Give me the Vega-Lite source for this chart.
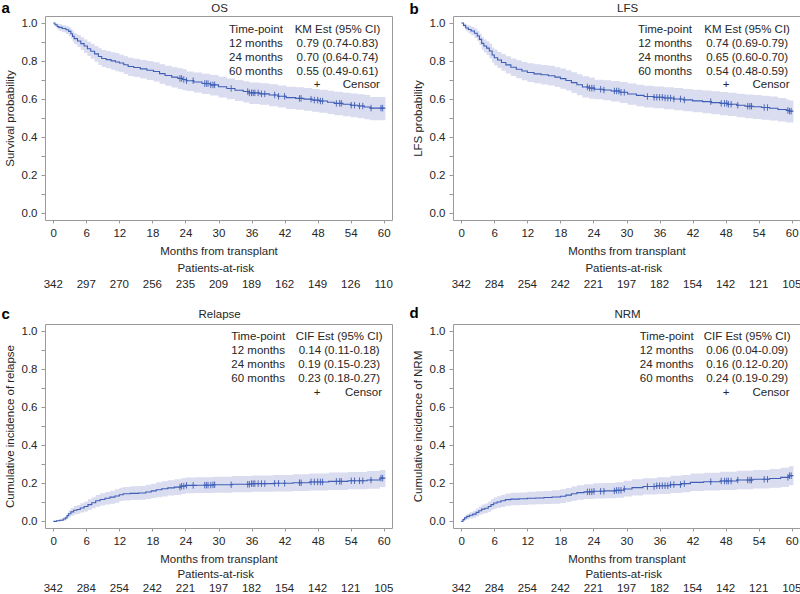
{
  "$schema": "https://vega.github.io/schema/vega-lite/v6.json",
  "padding": {"left": 0, "top": 0, "right": 0, "bottom": 0},
  "background": "white",
  "config": {
    "font": "Liberation Sans",
    "view": {"stroke": "#9a9a9a", "strokeWidth": 1},
    "axis": {"domain": false, "grid": false, "tickColor": "#9a9a9a", "labelFontSize": 11.5, "labelColor": "#262626", "labelOverlap": false, "labelFlush": false, "titleFontSize": 11.5, "titleFontWeight": "normal", "titleColor": "#262626"},
    "axisX": {"tickSize": 3, "labelPadding": 4, "titlePadding": 7},
    "axisY": {"tickSize": 4, "labelPadding": 4, "titlePadding": 6},
    "text": {"fontSize": 11.5, "color": "#262626"}
  },
  "datasets": {
    "os": [
      {"month": 0, "est": 1.0, "lo": 1.0, "hi": 1.0},
      {"month": 0.3, "est": 0.991, "lo": 0.981, "hi": 1.0},
      {"month": 0.7, "est": 0.982, "lo": 0.968, "hi": 0.996},
      {"month": 1.0, "est": 0.977, "lo": 0.96, "hi": 0.993},
      {"month": 1.6, "est": 0.971, "lo": 0.951, "hi": 0.989},
      {"month": 2.3, "est": 0.965, "lo": 0.943, "hi": 0.985},
      {"month": 2.8, "est": 0.956, "lo": 0.932, "hi": 0.978},
      {"month": 3.2, "est": 0.944, "lo": 0.918, "hi": 0.968},
      {"month": 3.5, "est": 0.93, "lo": 0.902, "hi": 0.957},
      {"month": 3.8, "est": 0.918, "lo": 0.888, "hi": 0.947},
      {"month": 4.4, "est": 0.906, "lo": 0.874, "hi": 0.937},
      {"month": 5.0, "est": 0.892, "lo": 0.858, "hi": 0.925},
      {"month": 5.6, "est": 0.879, "lo": 0.843, "hi": 0.914},
      {"month": 6.2, "est": 0.865, "lo": 0.827, "hi": 0.902},
      {"month": 6.8, "est": 0.852, "lo": 0.812, "hi": 0.891},
      {"month": 7.5, "est": 0.838, "lo": 0.796, "hi": 0.879},
      {"month": 8.2, "est": 0.824, "lo": 0.78, "hi": 0.867},
      {"month": 8.8, "est": 0.814, "lo": 0.769, "hi": 0.858},
      {"month": 9.6, "est": 0.808, "lo": 0.762, "hi": 0.853},
      {"month": 10.5, "est": 0.801, "lo": 0.754, "hi": 0.847},
      {"month": 11.3, "est": 0.795, "lo": 0.747, "hi": 0.842},
      {"month": 12.0, "est": 0.79, "lo": 0.741, "hi": 0.833},
      {"month": 12.8, "est": 0.781, "lo": 0.732, "hi": 0.826},
      {"month": 13.6, "est": 0.772, "lo": 0.722, "hi": 0.818},
      {"month": 14.6, "est": 0.766, "lo": 0.716, "hi": 0.813},
      {"month": 15.8, "est": 0.759, "lo": 0.708, "hi": 0.806},
      {"month": 17.0, "est": 0.752, "lo": 0.701, "hi": 0.8},
      {"month": 18.2, "est": 0.745, "lo": 0.693, "hi": 0.794},
      {"month": 19.3, "est": 0.734, "lo": 0.681, "hi": 0.784},
      {"month": 20.3, "est": 0.724, "lo": 0.67, "hi": 0.775},
      {"month": 21.5, "est": 0.716, "lo": 0.661, "hi": 0.768},
      {"month": 22.6, "est": 0.709, "lo": 0.653, "hi": 0.762},
      {"month": 23.5, "est": 0.703, "lo": 0.647, "hi": 0.757},
      {"month": 24.2, "est": 0.697, "lo": 0.643, "hi": 0.745},
      {"month": 25.5, "est": 0.69, "lo": 0.635, "hi": 0.74},
      {"month": 27.0, "est": 0.682, "lo": 0.627, "hi": 0.733},
      {"month": 28.5, "est": 0.675, "lo": 0.619, "hi": 0.727},
      {"month": 30.0, "est": 0.665, "lo": 0.609, "hi": 0.718},
      {"month": 31.5, "est": 0.656, "lo": 0.599, "hi": 0.709},
      {"month": 33.0, "est": 0.647, "lo": 0.59, "hi": 0.701},
      {"month": 34.5, "est": 0.64, "lo": 0.582, "hi": 0.694},
      {"month": 35.6, "est": 0.633, "lo": 0.575, "hi": 0.688},
      {"month": 37.5, "est": 0.628, "lo": 0.57, "hi": 0.683},
      {"month": 39.2, "est": 0.622, "lo": 0.563, "hi": 0.678},
      {"month": 40.8, "est": 0.615, "lo": 0.556, "hi": 0.672},
      {"month": 42.3, "est": 0.608, "lo": 0.548, "hi": 0.665},
      {"month": 44.0, "est": 0.604, "lo": 0.544, "hi": 0.662},
      {"month": 45.5, "est": 0.6, "lo": 0.539, "hi": 0.658},
      {"month": 47.0, "est": 0.595, "lo": 0.534, "hi": 0.654},
      {"month": 48.3, "est": 0.59, "lo": 0.528, "hi": 0.649},
      {"month": 49.8, "est": 0.584, "lo": 0.522, "hi": 0.644},
      {"month": 51.0, "est": 0.578, "lo": 0.516, "hi": 0.639},
      {"month": 52.6, "est": 0.573, "lo": 0.51, "hi": 0.634},
      {"month": 54.0, "est": 0.568, "lo": 0.505, "hi": 0.63},
      {"month": 55.3, "est": 0.564, "lo": 0.5, "hi": 0.626},
      {"month": 56.5, "est": 0.559, "lo": 0.495, "hi": 0.622},
      {"month": 57.5, "est": 0.553, "lo": 0.489, "hi": 0.612},
      {"month": 60.3, "est": 0.553, "lo": 0.489, "hi": 0.612}
    ],
    "lfs": [
      {"month": 0, "est": 1.0, "lo": 1.0, "hi": 1.0},
      {"month": 0.4, "est": 0.988, "lo": 0.976, "hi": 0.999},
      {"month": 0.8, "est": 0.974, "lo": 0.957, "hi": 0.991},
      {"month": 1.3, "est": 0.966, "lo": 0.946, "hi": 0.986},
      {"month": 1.8, "est": 0.958, "lo": 0.936, "hi": 0.98},
      {"month": 2.4, "est": 0.946, "lo": 0.921, "hi": 0.971},
      {"month": 2.9, "est": 0.932, "lo": 0.905, "hi": 0.959},
      {"month": 3.3, "est": 0.914, "lo": 0.884, "hi": 0.944},
      {"month": 3.7, "est": 0.893, "lo": 0.861, "hi": 0.925},
      {"month": 4.1, "est": 0.879, "lo": 0.845, "hi": 0.913},
      {"month": 4.6, "est": 0.868, "lo": 0.832, "hi": 0.904},
      {"month": 5.1, "est": 0.853, "lo": 0.815, "hi": 0.891},
      {"month": 5.6, "est": 0.832, "lo": 0.792, "hi": 0.872},
      {"month": 6.0, "est": 0.818, "lo": 0.777, "hi": 0.859},
      {"month": 6.6, "est": 0.806, "lo": 0.764, "hi": 0.848},
      {"month": 7.3, "est": 0.793, "lo": 0.749, "hi": 0.837},
      {"month": 8.1, "est": 0.78, "lo": 0.735, "hi": 0.825},
      {"month": 9.0, "est": 0.768, "lo": 0.722, "hi": 0.814},
      {"month": 10.0, "est": 0.757, "lo": 0.71, "hi": 0.804},
      {"month": 11.0, "est": 0.748, "lo": 0.7, "hi": 0.795},
      {"month": 12.0, "est": 0.74, "lo": 0.69, "hi": 0.789},
      {"month": 13.2, "est": 0.733, "lo": 0.683, "hi": 0.783},
      {"month": 14.5, "est": 0.728, "lo": 0.677, "hi": 0.779},
      {"month": 15.8, "est": 0.723, "lo": 0.672, "hi": 0.775},
      {"month": 17.0, "est": 0.716, "lo": 0.664, "hi": 0.768},
      {"month": 18.0, "est": 0.708, "lo": 0.655, "hi": 0.761},
      {"month": 19.0, "est": 0.698, "lo": 0.645, "hi": 0.752},
      {"month": 20.0, "est": 0.687, "lo": 0.633, "hi": 0.742},
      {"month": 21.0, "est": 0.676, "lo": 0.621, "hi": 0.731},
      {"month": 22.0, "est": 0.664, "lo": 0.609, "hi": 0.72},
      {"month": 23.2, "est": 0.658, "lo": 0.602, "hi": 0.714},
      {"month": 24.2, "est": 0.652, "lo": 0.6, "hi": 0.702},
      {"month": 25.8, "est": 0.648, "lo": 0.594, "hi": 0.7},
      {"month": 27.2, "est": 0.643, "lo": 0.588, "hi": 0.696},
      {"month": 28.8, "est": 0.636, "lo": 0.58, "hi": 0.69},
      {"month": 30.2, "est": 0.627, "lo": 0.57, "hi": 0.682},
      {"month": 31.8, "est": 0.62, "lo": 0.563, "hi": 0.676},
      {"month": 33.2, "est": 0.614, "lo": 0.556, "hi": 0.67},
      {"month": 35.0, "est": 0.61, "lo": 0.552, "hi": 0.667},
      {"month": 36.8, "est": 0.606, "lo": 0.547, "hi": 0.663},
      {"month": 38.6, "est": 0.601, "lo": 0.542, "hi": 0.659},
      {"month": 40.3, "est": 0.596, "lo": 0.536, "hi": 0.654},
      {"month": 42.0, "est": 0.591, "lo": 0.531, "hi": 0.65},
      {"month": 43.8, "est": 0.587, "lo": 0.526, "hi": 0.646},
      {"month": 45.4, "est": 0.582, "lo": 0.521, "hi": 0.642},
      {"month": 47.0, "est": 0.578, "lo": 0.516, "hi": 0.638},
      {"month": 48.4, "est": 0.573, "lo": 0.511, "hi": 0.634},
      {"month": 50.0, "est": 0.568, "lo": 0.505, "hi": 0.629},
      {"month": 51.5, "est": 0.563, "lo": 0.5, "hi": 0.625},
      {"month": 53.0, "est": 0.56, "lo": 0.496, "hi": 0.622},
      {"month": 54.5, "est": 0.556, "lo": 0.492, "hi": 0.618},
      {"month": 56.0, "est": 0.552, "lo": 0.488, "hi": 0.614},
      {"month": 57.5, "est": 0.546, "lo": 0.482, "hi": 0.606},
      {"month": 59.0, "est": 0.541, "lo": 0.478, "hi": 0.598},
      {"month": 59.6, "est": 0.537, "lo": 0.477, "hi": 0.593},
      {"month": 60.3, "est": 0.537, "lo": 0.477, "hi": 0.593}
    ],
    "rel": [
      {"month": 0, "est": 0.0, "lo": 0.0, "hi": 0.0},
      {"month": 0.6, "est": 0.003, "lo": 0.0, "hi": 0.009},
      {"month": 1.2, "est": 0.006, "lo": 0.0, "hi": 0.014},
      {"month": 1.8, "est": 0.012, "lo": 0.003, "hi": 0.022},
      {"month": 2.2, "est": 0.018, "lo": 0.006, "hi": 0.03},
      {"month": 2.5, "est": 0.03, "lo": 0.015, "hi": 0.045},
      {"month": 2.8, "est": 0.04, "lo": 0.022, "hi": 0.058},
      {"month": 3.2, "est": 0.05, "lo": 0.03, "hi": 0.07},
      {"month": 3.7, "est": 0.058, "lo": 0.036, "hi": 0.08},
      {"month": 4.3, "est": 0.062, "lo": 0.04, "hi": 0.086},
      {"month": 4.9, "est": 0.07, "lo": 0.046, "hi": 0.095},
      {"month": 5.6, "est": 0.078, "lo": 0.052, "hi": 0.104},
      {"month": 6.3, "est": 0.088, "lo": 0.06, "hi": 0.116},
      {"month": 7.0, "est": 0.098, "lo": 0.069, "hi": 0.127},
      {"month": 7.7, "est": 0.108, "lo": 0.077, "hi": 0.139},
      {"month": 8.5, "est": 0.115, "lo": 0.083, "hi": 0.147},
      {"month": 9.4, "est": 0.121, "lo": 0.088, "hi": 0.154},
      {"month": 10.3, "est": 0.127, "lo": 0.093, "hi": 0.161},
      {"month": 11.2, "est": 0.133, "lo": 0.098, "hi": 0.168},
      {"month": 12.0, "est": 0.14, "lo": 0.107, "hi": 0.177},
      {"month": 12.7, "est": 0.145, "lo": 0.11, "hi": 0.181},
      {"month": 14.0, "est": 0.147, "lo": 0.112, "hi": 0.184},
      {"month": 15.5, "est": 0.149, "lo": 0.113, "hi": 0.186},
      {"month": 16.8, "est": 0.154, "lo": 0.117, "hi": 0.192},
      {"month": 17.8, "est": 0.16, "lo": 0.122, "hi": 0.198},
      {"month": 18.7, "est": 0.166, "lo": 0.127, "hi": 0.205},
      {"month": 19.7, "est": 0.171, "lo": 0.131, "hi": 0.211},
      {"month": 20.8, "est": 0.176, "lo": 0.136, "hi": 0.216},
      {"month": 22.0, "est": 0.18, "lo": 0.139, "hi": 0.221},
      {"month": 23.2, "est": 0.185, "lo": 0.144, "hi": 0.226},
      {"month": 24.0, "est": 0.189, "lo": 0.148, "hi": 0.231},
      {"month": 26.0, "est": 0.19, "lo": 0.149, "hi": 0.232},
      {"month": 29.0, "est": 0.192, "lo": 0.15, "hi": 0.234},
      {"month": 32.5, "est": 0.195, "lo": 0.153, "hi": 0.238},
      {"month": 36.0, "est": 0.198, "lo": 0.155, "hi": 0.241},
      {"month": 40.0, "est": 0.2, "lo": 0.157, "hi": 0.244},
      {"month": 43.5, "est": 0.203, "lo": 0.159, "hi": 0.248},
      {"month": 46.5, "est": 0.207, "lo": 0.162, "hi": 0.252},
      {"month": 50.0, "est": 0.21, "lo": 0.165, "hi": 0.256},
      {"month": 53.5, "est": 0.213, "lo": 0.168, "hi": 0.259},
      {"month": 57.0, "est": 0.217, "lo": 0.171, "hi": 0.264},
      {"month": 59.3, "est": 0.227, "lo": 0.18, "hi": 0.27},
      {"month": 60.3, "est": 0.227, "lo": 0.18, "hi": 0.27}
    ],
    "nrm": [
      {"month": 0, "est": 0.0, "lo": 0.0, "hi": 0.0},
      {"month": 0.3, "est": 0.009, "lo": 0.001, "hi": 0.018},
      {"month": 0.6, "est": 0.018, "lo": 0.006, "hi": 0.03},
      {"month": 1.0, "est": 0.026, "lo": 0.011, "hi": 0.04},
      {"month": 1.5, "est": 0.032, "lo": 0.015, "hi": 0.048},
      {"month": 2.1, "est": 0.038, "lo": 0.019, "hi": 0.056},
      {"month": 2.7, "est": 0.047, "lo": 0.026, "hi": 0.067},
      {"month": 3.2, "est": 0.056, "lo": 0.033, "hi": 0.078},
      {"month": 3.7, "est": 0.064, "lo": 0.04, "hi": 0.088},
      {"month": 4.3, "est": 0.069, "lo": 0.044, "hi": 0.094},
      {"month": 4.9, "est": 0.078, "lo": 0.051, "hi": 0.104},
      {"month": 5.4, "est": 0.088, "lo": 0.059, "hi": 0.116},
      {"month": 5.9, "est": 0.096, "lo": 0.066, "hi": 0.125},
      {"month": 6.5, "est": 0.102, "lo": 0.071, "hi": 0.132},
      {"month": 7.2, "est": 0.108, "lo": 0.076, "hi": 0.139},
      {"month": 8.0, "est": 0.114, "lo": 0.082, "hi": 0.146},
      {"month": 9.0, "est": 0.117, "lo": 0.084, "hi": 0.15},
      {"month": 10.5, "est": 0.119, "lo": 0.086, "hi": 0.152},
      {"month": 12.0, "est": 0.121, "lo": 0.088, "hi": 0.155},
      {"month": 13.5, "est": 0.123, "lo": 0.09, "hi": 0.158},
      {"month": 15.0, "est": 0.125, "lo": 0.091, "hi": 0.16},
      {"month": 16.5, "est": 0.128, "lo": 0.093, "hi": 0.163},
      {"month": 18.0, "est": 0.132, "lo": 0.097, "hi": 0.168},
      {"month": 19.0, "est": 0.138, "lo": 0.102, "hi": 0.175},
      {"month": 20.0, "est": 0.145, "lo": 0.108, "hi": 0.183},
      {"month": 21.0, "est": 0.151, "lo": 0.113, "hi": 0.19},
      {"month": 22.3, "est": 0.155, "lo": 0.117, "hi": 0.195},
      {"month": 24.0, "est": 0.158, "lo": 0.12, "hi": 0.2},
      {"month": 26.0, "est": 0.16, "lo": 0.121, "hi": 0.202},
      {"month": 28.0, "est": 0.163, "lo": 0.124, "hi": 0.206},
      {"month": 29.5, "est": 0.17, "lo": 0.13, "hi": 0.213},
      {"month": 31.0, "est": 0.177, "lo": 0.136, "hi": 0.221},
      {"month": 33.0, "est": 0.183, "lo": 0.141, "hi": 0.227},
      {"month": 35.5, "est": 0.187, "lo": 0.144, "hi": 0.232},
      {"month": 38.0, "est": 0.193, "lo": 0.149, "hi": 0.239},
      {"month": 40.0, "est": 0.198, "lo": 0.153, "hi": 0.244},
      {"month": 41.6, "est": 0.205, "lo": 0.159, "hi": 0.251},
      {"month": 44.0, "est": 0.208, "lo": 0.162, "hi": 0.255},
      {"month": 47.0, "est": 0.212, "lo": 0.165, "hi": 0.26},
      {"month": 50.0, "est": 0.217, "lo": 0.169, "hi": 0.266},
      {"month": 53.0, "est": 0.221, "lo": 0.173, "hi": 0.27},
      {"month": 56.0, "est": 0.225, "lo": 0.176, "hi": 0.275},
      {"month": 58.0, "est": 0.231, "lo": 0.181, "hi": 0.282},
      {"month": 59.5, "est": 0.24, "lo": 0.19, "hi": 0.29},
      {"month": 60.3, "est": 0.24, "lo": 0.19, "hi": 0.29}
    ],
    "os_cens": [
      {"month": 23.0, "est": 0.709}, {"month": 23.3, "est": 0.709}, {"month": 23.7, "est": 0.703}, {"month": 24.2, "est": 0.697},
      {"month": 25.4, "est": 0.697}, {"month": 27.5, "est": 0.682}, {"month": 27.8, "est": 0.682}, {"month": 28.1, "est": 0.682},
      {"month": 28.6, "est": 0.675}, {"month": 29.0, "est": 0.675}, {"month": 29.3, "est": 0.675}, {"month": 32.3, "est": 0.656},
      {"month": 35.3, "est": 0.64}, {"month": 35.6, "est": 0.633}, {"month": 36.0, "est": 0.633}, {"month": 36.3, "est": 0.633},
      {"month": 36.6, "est": 0.633}, {"month": 37.2, "est": 0.633}, {"month": 37.8, "est": 0.628}, {"month": 38.4, "est": 0.628},
      {"month": 40.2, "est": 0.622}, {"month": 40.9, "est": 0.615}, {"month": 42.0, "est": 0.615}, {"month": 44.7, "est": 0.604},
      {"month": 45.0, "est": 0.604}, {"month": 46.8, "est": 0.6}, {"month": 47.4, "est": 0.595}, {"month": 48.0, "est": 0.595},
      {"month": 48.5, "est": 0.59}, {"month": 48.9, "est": 0.59}, {"month": 51.4, "est": 0.578}, {"month": 52.0, "est": 0.578},
      {"month": 52.3, "est": 0.578}, {"month": 54.1, "est": 0.568}, {"month": 54.7, "est": 0.568}, {"month": 55.6, "est": 0.564},
      {"month": 56.2, "est": 0.564}, {"month": 57.7, "est": 0.553}, {"month": 59.5, "est": 0.553}, {"month": 59.8, "est": 0.553}
    ],
    "rel_cens": [
      {"month": 23.0, "est": 0.18}, {"month": 23.3, "est": 0.185}, {"month": 23.7, "est": 0.185}, {"month": 24.2, "est": 0.189},
      {"month": 25.4, "est": 0.189}, {"month": 27.5, "est": 0.19}, {"month": 27.8, "est": 0.19}, {"month": 28.1, "est": 0.19},
      {"month": 28.6, "est": 0.19}, {"month": 29.0, "est": 0.192}, {"month": 29.3, "est": 0.192}, {"month": 32.3, "est": 0.192},
      {"month": 35.3, "est": 0.195}, {"month": 35.6, "est": 0.195}, {"month": 36.0, "est": 0.198}, {"month": 36.3, "est": 0.198},
      {"month": 36.6, "est": 0.198}, {"month": 37.2, "est": 0.198}, {"month": 37.8, "est": 0.198}, {"month": 38.4, "est": 0.198},
      {"month": 40.2, "est": 0.2}, {"month": 40.9, "est": 0.2}, {"month": 42.0, "est": 0.2}, {"month": 44.7, "est": 0.203},
      {"month": 45.0, "est": 0.203}, {"month": 46.8, "est": 0.207}, {"month": 47.4, "est": 0.207}, {"month": 48.0, "est": 0.207},
      {"month": 48.5, "est": 0.207}, {"month": 48.9, "est": 0.207}, {"month": 51.4, "est": 0.21}, {"month": 52.0, "est": 0.21},
      {"month": 52.3, "est": 0.21}, {"month": 54.1, "est": 0.213}, {"month": 54.7, "est": 0.213}, {"month": 55.6, "est": 0.213},
      {"month": 56.2, "est": 0.213}, {"month": 57.7, "est": 0.217}, {"month": 59.5, "est": 0.227}, {"month": 59.8, "est": 0.227}
    ],
    "lfs_cens": [
      {"month": 22.9, "est": 0.664}, {"month": 23.3, "est": 0.658}, {"month": 23.7, "est": 0.658}, {"month": 24.1, "est": 0.658},
      {"month": 25.3, "est": 0.652}, {"month": 25.9, "est": 0.648}, {"month": 27.8, "est": 0.643}, {"month": 28.2, "est": 0.643},
      {"month": 28.6, "est": 0.643}, {"month": 29.0, "est": 0.636}, {"month": 29.6, "est": 0.636}, {"month": 33.8, "est": 0.614},
      {"month": 35.0, "est": 0.61}, {"month": 35.5, "est": 0.61}, {"month": 36.0, "est": 0.61}, {"month": 36.5, "est": 0.61},
      {"month": 37.0, "est": 0.606}, {"month": 37.5, "est": 0.606}, {"month": 38.0, "est": 0.606}, {"month": 38.6, "est": 0.601},
      {"month": 39.8, "est": 0.601}, {"month": 40.5, "est": 0.596}, {"month": 45.3, "est": 0.587}, {"month": 47.2, "est": 0.578},
      {"month": 47.8, "est": 0.578}, {"month": 48.2, "est": 0.578}, {"month": 48.5, "est": 0.573}, {"month": 49.0, "est": 0.573},
      {"month": 50.2, "est": 0.568}, {"month": 52.0, "est": 0.563}, {"month": 52.4, "est": 0.563}, {"month": 52.7, "est": 0.563},
      {"month": 55.0, "est": 0.556}, {"month": 55.6, "est": 0.556}, {"month": 59.3, "est": 0.541}, {"month": 59.6, "est": 0.537},
      {"month": 59.9, "est": 0.537}
    ],
    "nrm_cens": [
      {"month": 22.9, "est": 0.155}, {"month": 23.3, "est": 0.155}, {"month": 23.7, "est": 0.155}, {"month": 24.1, "est": 0.158},
      {"month": 25.3, "est": 0.158}, {"month": 25.9, "est": 0.158}, {"month": 27.8, "est": 0.16}, {"month": 28.2, "est": 0.163},
      {"month": 28.6, "est": 0.163}, {"month": 29.0, "est": 0.163}, {"month": 29.6, "est": 0.17}, {"month": 33.8, "est": 0.183},
      {"month": 35.0, "est": 0.183}, {"month": 35.5, "est": 0.187}, {"month": 36.0, "est": 0.187}, {"month": 36.5, "est": 0.187},
      {"month": 37.0, "est": 0.187}, {"month": 37.5, "est": 0.187}, {"month": 38.0, "est": 0.193}, {"month": 38.6, "est": 0.193},
      {"month": 39.8, "est": 0.193}, {"month": 40.5, "est": 0.198}, {"month": 45.3, "est": 0.208}, {"month": 47.2, "est": 0.212},
      {"month": 47.8, "est": 0.212}, {"month": 48.2, "est": 0.212}, {"month": 48.5, "est": 0.212}, {"month": 49.0, "est": 0.212},
      {"month": 50.2, "est": 0.217}, {"month": 52.0, "est": 0.217}, {"month": 52.4, "est": 0.217}, {"month": 52.7, "est": 0.217},
      {"month": 55.0, "est": 0.221}, {"month": 55.6, "est": 0.221}, {"month": 59.3, "est": 0.231}, {"month": 59.6, "est": 0.24},
      {"month": 59.9, "est": 0.24}
    ],
    "risk": [
      {"month": 0, "OS": 342, "LFS": 342, "Relapse": 342, "NRM": 342},
      {"month": 6, "OS": 297, "LFS": 284, "Relapse": 284, "NRM": 284},
      {"month": 12, "OS": 270, "LFS": 254, "Relapse": 254, "NRM": 254},
      {"month": 18, "OS": 256, "LFS": 242, "Relapse": 242, "NRM": 242},
      {"month": 24, "OS": 235, "LFS": 221, "Relapse": 221, "NRM": 221},
      {"month": 30, "OS": 209, "LFS": 197, "Relapse": 197, "NRM": 197},
      {"month": 36, "OS": 189, "LFS": 182, "Relapse": 182, "NRM": 182},
      {"month": 42, "OS": 162, "LFS": 154, "Relapse": 154, "NRM": 154},
      {"month": 48, "OS": 149, "LFS": 142, "Relapse": 142, "NRM": 142},
      {"month": 54, "OS": 126, "LFS": 121, "Relapse": 121, "NRM": 121},
      {"month": 60, "OS": 110, "LFS": 105, "Relapse": 105, "NRM": 105}
    ]
  },
  "columns": 2,
  "bounds": "flush",
  "spacing": {"row": 104, "column": 61},
  "concat": [
    {
      "width": 347, "height": 204,
      "layer": [
        {"data": {"name": "os"}, "mark": {"type": "area", "interpolate": "step-after", "color": "#dadcf0"},
         "encoding": {
           "x": {"field": "month", "type": "quantitative", "scale": {"domain": [-1.5, 61.5], "nice": false, "zero": false},
                 "axis": {"values": [0, 6, 12, 18, 24, 30, 36, 42, 48, 54, 60], "tickCount": 30, "format": "d", "labelOverlap": false, "title": "Months from transplant"}},
           "y": {"field": "lo", "type": "quantitative", "scale": {"domain": [-0.035, 1.037], "nice": false, "zero": false},
                 "axis": {"values": [0, 0.1, 0.2, 0.3, 0.4, 0.5, 0.6, 0.7, 0.8, 0.9, 1.0], "tickCount": 30, "labelOverlap": false, "labelExpr": "round(datum.value * 10) % 2 == 0 ? format(datum.value, '.1f') : ''", "title": "Survival probability"}},
           "y2": {"field": "hi"}
         }},
        {"data": {"name": "os"}, "mark": {"type": "line", "interpolate": "step-after", "color": "#3f5fb5", "strokeWidth": 1.1},
         "encoding": {"x": {"field": "month", "type": "quantitative"}, "y": {"field": "est", "type": "quantitative"}}},
        {"data": {"name": "os_cens"}, "mark": {"type": "point", "shape": "M0,-1V1M-0.4,0H0.4", "size": 42, "filled": false, "color": "#3f5fb5", "strokeWidth": 0.9, "opacity": 1},
         "encoding": {"x": {"field": "month", "type": "quantitative"}, "y": {"field": "est", "type": "quantitative"}}},
        {"data": {"name": "risk"}, "mark": {"type": "text", "align": "center", "baseline": "alphabetic"},
         "encoding": {"x": {"field": "month", "type": "quantitative"}, "y": {"datum": -0.391}, "text": {"field": "OS"}}},
        {"data": {"values": [{}]}, "mark": {"type": "text", "text": "Patients-at-risk", "align": "center", "baseline": "alphabetic"},
         "encoding": {"x": {"datum": 29.5}, "y": {"datum": -0.306}}},
        {"data": {"values": [{}]}, "mark": {"type": "text", "text": "OS", "align": "center", "baseline": "alphabetic"},
         "encoding": {"x": {"datum": 30.2}, "y": {"datum": 1.06}}},
        {"data": {"values": [{}]}, "mark": {"type": "text", "text": ["Time-point", "12 months", "24 months", "60 months"], "lineHeight": 13.75, "align": "center", "baseline": "top"},
         "encoding": {"x": {"datum": 36.8}, "y": {"datum": 0.993}}},
        {"data": {"values": [{}]}, "mark": {"type": "text", "text": ["KM Est (95% CI)", "0.79 (0.74-0.83)", "0.70 (0.64-0.74)", "0.55 (0.49-0.61)"], "lineHeight": 13.75, "align": "center", "baseline": "top"},
         "encoding": {"x": {"datum": 51.6}, "y": {"datum": 0.993}}},
        {"data": {"values": [{}]}, "mark": {"type": "text", "text": "+", "align": "center", "baseline": "alphabetic"},
         "encoding": {"x": {"datum": 47.9}, "y": {"datum": 0.657}}},
        {"data": {"values": [{}]}, "mark": {"type": "text", "text": "Censor", "align": "right", "baseline": "alphabetic"},
         "encoding": {"x": {"datum": 59.3}, "y": {"datum": 0.657}}},
        {"data": {"values": [{}]}, "mark": {"type": "text", "text": "a", "fontSize": 15, "fontWeight": "bold", "color": "#000000", "align": "left", "baseline": "alphabetic"},
         "encoding": {"x": {"datum": -9.4}, "y": {"datum": 1.053}}}
      ]
    },
    {
      "width": 347, "height": 204,
      "layer": [
        {"data": {"name": "lfs"}, "mark": {"type": "area", "interpolate": "step-after", "color": "#dadcf0"},
         "encoding": {
           "x": {"field": "month", "type": "quantitative", "scale": {"domain": [-1.5, 61.5], "nice": false, "zero": false},
                 "axis": {"values": [0, 6, 12, 18, 24, 30, 36, 42, 48, 54, 60], "tickCount": 30, "format": "d", "labelOverlap": false, "title": "Months from transplant"}},
           "y": {"field": "lo", "type": "quantitative", "scale": {"domain": [-0.035, 1.037], "nice": false, "zero": false},
                 "axis": {"values": [0, 0.1, 0.2, 0.3, 0.4, 0.5, 0.6, 0.7, 0.8, 0.9, 1.0], "tickCount": 30, "labelOverlap": false, "labelExpr": "round(datum.value * 10) % 2 == 0 ? format(datum.value, '.1f') : ''", "title": "LFS probability"}},
           "y2": {"field": "hi"}
         }},
        {"data": {"name": "lfs"}, "mark": {"type": "line", "interpolate": "step-after", "color": "#3f5fb5", "strokeWidth": 1.1},
         "encoding": {"x": {"field": "month", "type": "quantitative"}, "y": {"field": "est", "type": "quantitative"}}},
        {"data": {"name": "lfs_cens"}, "mark": {"type": "point", "shape": "M0,-1V1M-0.4,0H0.4", "size": 42, "filled": false, "color": "#3f5fb5", "strokeWidth": 0.9, "opacity": 1},
         "encoding": {"x": {"field": "month", "type": "quantitative"}, "y": {"field": "est", "type": "quantitative"}}},
        {"data": {"name": "risk"}, "mark": {"type": "text", "align": "center", "baseline": "alphabetic"},
         "encoding": {"x": {"field": "month", "type": "quantitative"}, "y": {"datum": -0.391}, "text": {"field": "LFS"}}},
        {"data": {"values": [{}]}, "mark": {"type": "text", "text": "Patients-at-risk", "align": "center", "baseline": "alphabetic"},
         "encoding": {"x": {"datum": 29.5}, "y": {"datum": -0.306}}},
        {"data": {"values": [{}]}, "mark": {"type": "text", "text": "LFS", "align": "center", "baseline": "alphabetic"},
         "encoding": {"x": {"datum": 30.2}, "y": {"datum": 1.06}}},
        {"data": {"values": [{}]}, "mark": {"type": "text", "text": ["Time-point", "12 months", "24 months", "60 months"], "lineHeight": 13.75, "align": "center", "baseline": "top"},
         "encoding": {"x": {"datum": 37.0}, "y": {"datum": 0.993}}},
        {"data": {"values": [{}]}, "mark": {"type": "text", "text": ["KM Est (95% CI)", "0.74 (0.69-0.79)", "0.65 (0.60-0.70)", "0.54 (0.48-0.59)"], "lineHeight": 13.75, "align": "center", "baseline": "top"},
         "encoding": {"x": {"datum": 51.9}, "y": {"datum": 0.993}}},
        {"data": {"values": [{}]}, "mark": {"type": "text", "text": "+", "align": "center", "baseline": "alphabetic"},
         "encoding": {"x": {"datum": 48.1}, "y": {"datum": 0.657}}},
        {"data": {"values": [{}]}, "mark": {"type": "text", "text": "Censor", "align": "right", "baseline": "alphabetic"},
         "encoding": {"x": {"datum": 59.6}, "y": {"datum": 0.657}}},
        {"data": {"values": [{}]}, "mark": {"type": "text", "text": "b", "fontSize": 15, "fontWeight": "bold", "color": "#000000", "align": "left", "baseline": "alphabetic"},
         "encoding": {"x": {"datum": -9.4}, "y": {"datum": 1.05}}}
      ]
    },
    {
      "width": 347, "height": 204,
      "layer": [
        {"data": {"name": "rel"}, "mark": {"type": "area", "interpolate": "step-after", "color": "#dadcf0"},
         "encoding": {
           "x": {"field": "month", "type": "quantitative", "scale": {"domain": [-1.5, 61.5], "nice": false, "zero": false},
                 "axis": {"values": [0, 6, 12, 18, 24, 30, 36, 42, 48, 54, 60], "tickCount": 30, "format": "d", "labelOverlap": false, "title": "Months from transplant"}},
           "y": {"field": "lo", "type": "quantitative", "scale": {"domain": [-0.035, 1.037], "nice": false, "zero": false},
                 "axis": {"values": [0, 0.1, 0.2, 0.3, 0.4, 0.5, 0.6, 0.7, 0.8, 0.9, 1.0], "tickCount": 30, "labelOverlap": false, "labelExpr": "round(datum.value * 10) % 2 == 0 ? format(datum.value, '.1f') : ''", "title": "Cumulative incidence of relapse"}},
           "y2": {"field": "hi"}
         }},
        {"data": {"name": "rel"}, "mark": {"type": "line", "interpolate": "step-after", "color": "#3f5fb5", "strokeWidth": 1.1},
         "encoding": {"x": {"field": "month", "type": "quantitative"}, "y": {"field": "est", "type": "quantitative"}}},
        {"data": {"name": "rel_cens"}, "mark": {"type": "point", "shape": "M0,-1V1M-0.4,0H0.4", "size": 42, "filled": false, "color": "#3f5fb5", "strokeWidth": 0.9, "opacity": 1},
         "encoding": {"x": {"field": "month", "type": "quantitative"}, "y": {"field": "est", "type": "quantitative"}}},
        {"data": {"name": "risk"}, "mark": {"type": "text", "align": "center", "baseline": "alphabetic"},
         "encoding": {"x": {"field": "month", "type": "quantitative"}, "y": {"datum": -0.373}, "text": {"field": "Relapse"}}},
        {"data": {"values": [{}]}, "mark": {"type": "text", "text": "Patients-at-risk", "align": "center", "baseline": "alphabetic"},
         "encoding": {"x": {"datum": 29.5}, "y": {"datum": -0.296}}},
        {"data": {"values": [{}]}, "mark": {"type": "text", "text": "Relapse", "align": "center", "baseline": "alphabetic"},
         "encoding": {"x": {"datum": 30.2}, "y": {"datum": 1.067}}},
        {"data": {"values": [{}]}, "mark": {"type": "text", "text": ["Time-point", "12 months", "24 months", "60 months"], "lineHeight": 14, "align": "center", "baseline": "top"},
         "encoding": {"x": {"datum": 37.2}, "y": {"datum": 1.0}}},
        {"data": {"values": [{}]}, "mark": {"type": "text", "text": ["CIF Est (95% CI)", "0.14 (0.11-0.18)", "0.19 (0.15-0.23)", "0.23 (0.18-0.27)"], "lineHeight": 14, "align": "center", "baseline": "top"},
         "encoding": {"x": {"datum": 51.9}, "y": {"datum": 1.0}}},
        {"data": {"values": [{}]}, "mark": {"type": "text", "text": "+", "align": "center", "baseline": "alphabetic"},
         "encoding": {"x": {"datum": 47.9}, "y": {"datum": 0.658}}},
        {"data": {"values": [{}]}, "mark": {"type": "text", "text": "Censor", "align": "right", "baseline": "alphabetic"},
         "encoding": {"x": {"datum": 59.7}, "y": {"datum": 0.658}}},
        {"data": {"values": [{}]}, "mark": {"type": "text", "text": "c", "fontSize": 15, "fontWeight": "bold", "color": "#000000", "align": "left", "baseline": "alphabetic"},
         "encoding": {"x": {"datum": -9.4}, "y": {"datum": 1.063}}}
      ]
    },
    {
      "width": 347, "height": 204,
      "layer": [
        {"data": {"name": "nrm"}, "mark": {"type": "area", "interpolate": "step-after", "color": "#dadcf0"},
         "encoding": {
           "x": {"field": "month", "type": "quantitative", "scale": {"domain": [-1.5, 61.5], "nice": false, "zero": false},
                 "axis": {"values": [0, 6, 12, 18, 24, 30, 36, 42, 48, 54, 60], "tickCount": 30, "format": "d", "labelOverlap": false, "title": "Months from transplant"}},
           "y": {"field": "lo", "type": "quantitative", "scale": {"domain": [-0.035, 1.037], "nice": false, "zero": false},
                 "axis": {"values": [0, 0.1, 0.2, 0.3, 0.4, 0.5, 0.6, 0.7, 0.8, 0.9, 1.0], "tickCount": 30, "labelOverlap": false, "labelExpr": "round(datum.value * 10) % 2 == 0 ? format(datum.value, '.1f') : ''", "title": "Cumulative incidence of NRM"}},
           "y2": {"field": "hi"}
         }},
        {"data": {"name": "nrm"}, "mark": {"type": "line", "interpolate": "step-after", "color": "#3f5fb5", "strokeWidth": 1.1},
         "encoding": {"x": {"field": "month", "type": "quantitative"}, "y": {"field": "est", "type": "quantitative"}}},
        {"data": {"name": "nrm_cens"}, "mark": {"type": "point", "shape": "M0,-1V1M-0.4,0H0.4", "size": 42, "filled": false, "color": "#3f5fb5", "strokeWidth": 0.9, "opacity": 1},
         "encoding": {"x": {"field": "month", "type": "quantitative"}, "y": {"field": "est", "type": "quantitative"}}},
        {"data": {"name": "risk"}, "mark": {"type": "text", "align": "center", "baseline": "alphabetic"},
         "encoding": {"x": {"field": "month", "type": "quantitative"}, "y": {"datum": -0.373}, "text": {"field": "NRM"}}},
        {"data": {"values": [{}]}, "mark": {"type": "text", "text": "Patients-at-risk", "align": "center", "baseline": "alphabetic"},
         "encoding": {"x": {"datum": 29.5}, "y": {"datum": -0.296}}},
        {"data": {"values": [{}]}, "mark": {"type": "text", "text": "NRM", "align": "center", "baseline": "alphabetic"},
         "encoding": {"x": {"datum": 30.2}, "y": {"datum": 1.07}}},
        {"data": {"values": [{}]}, "mark": {"type": "text", "text": ["Time-point", "12 months", "24 months", "60 months"], "lineHeight": 14, "align": "center", "baseline": "top"},
         "encoding": {"x": {"datum": 37.3}, "y": {"datum": 1.0}}},
        {"data": {"values": [{}]}, "mark": {"type": "text", "text": ["CIF Est (95% CI)", "0.06 (0.04-0.09)", "0.16 (0.12-0.20)", "0.24 (0.19-0.29)"], "lineHeight": 14, "align": "center", "baseline": "top"},
         "encoding": {"x": {"datum": 51.9}, "y": {"datum": 1.0}}},
        {"data": {"values": [{}]}, "mark": {"type": "text", "text": "+", "align": "center", "baseline": "alphabetic"},
         "encoding": {"x": {"datum": 48.1}, "y": {"datum": 0.658}}},
        {"data": {"values": [{}]}, "mark": {"type": "text", "text": "Censor", "align": "right", "baseline": "alphabetic"},
         "encoding": {"x": {"datum": 59.6}, "y": {"datum": 0.658}}},
        {"data": {"values": [{}]}, "mark": {"type": "text", "text": "d", "fontSize": 15, "fontWeight": "bold", "color": "#000000", "align": "left", "baseline": "alphabetic"},
         "encoding": {"x": {"datum": -9.4}, "y": {"datum": 1.07}}}
      ]
    }
  ]
}
